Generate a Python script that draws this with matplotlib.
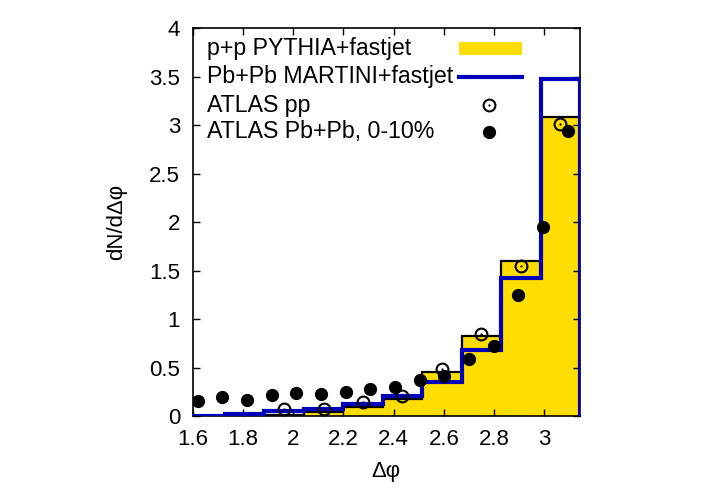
import numpy as np
import matplotlib
matplotlib.use("Agg")
import matplotlib.pyplot as plt
from matplotlib.lines import Line2D
from matplotlib.patches import Rectangle

plt.rcParams['font.family'] = ['Liberation Sans', 'DejaVu Sans']

# histogram bin edges (width pi/20)
bin_edges = [1.5708, 1.7279, 1.8850, 2.0420, 2.1991, 2.3562, 2.5133,
             2.6704, 2.8274, 2.9845, 3.1416]
pythia_pp = [0.0, 0.005, 0.01, 0.04, 0.09, 0.18, 0.45, 0.83, 1.60, 3.08]
martini_pbpb = [0.0, 0.02, 0.05, 0.07, 0.12, 0.21, 0.35, 0.68, 1.42, 3.48]

atlas_pp_x = [1.964, 2.121, 2.278, 2.435, 2.592, 2.749, 2.906, 3.063]
atlas_pp_y = [0.072, 0.075, 0.148, 0.206, 0.482, 0.846, 1.551, 3.013]

atlas_pbpb_x = [1.620, 1.718, 1.816, 1.914, 2.012, 2.110, 2.209, 2.307,
                2.405, 2.503, 2.601, 2.700, 2.798, 2.896, 2.994, 3.093]
atlas_pbpb_y = [0.158, 0.199, 0.165, 0.213, 0.234, 0.230, 0.250, 0.279,
                0.296, 0.371, 0.413, 0.585, 0.726, 1.245, 1.953, 2.944]

x_ticks = [1.6, 1.8, 2.0, 2.2, 2.4, 2.6, 2.8, 3.0]
x_tick_labels = ['1.6', '1.8', '2', '2.2', '2.4', '2.6', '2.8', '3']
y_ticks = [0, 0.5, 1, 1.5, 2, 2.5, 3, 3.5, 4]
y_tick_labels = ['0', '0.5', '1', '1.5', '2', '2.5', '3', '3.5', '4']

legend_labels = ['p+p PYTHIA+fastjet', 'Pb+Pb MARTINI+fastjet', 'ATLAS pp',
                 'ATLAS Pb+Pb, 0-10%']

YELLOW = '#ffdd00'
BLUE = '#0000bb'
FS = 16
LFS = 16.7
MS = 8.5

fig = plt.figure(figsize=(7.01, 4.91), dpi=100)
ax = fig.add_axes([0.2749, 0.1527, 0.8274 - 0.2749, 0.9424 - 0.1527])

ax.stairs(pythia_pp, bin_edges, fill=True, color=YELLOW, lw=0, zorder=1)
ax.stairs(pythia_pp, bin_edges, fill=False, color='black', lw=1.6, zorder=2)
ax.stairs(martini_pbpb, bin_edges, fill=False, color=BLUE, lw=3.0, zorder=3)

ax.plot(atlas_pp_x, atlas_pp_y, ls='none', marker='o', ms=MS, mfc='none',
        mec='black', mew=1.5, zorder=5)
ax.plot(atlas_pp_x, atlas_pp_y, ls='none', marker='o', ms=1.6, mfc='black',
        mec='black', mew=0, zorder=5)
ax.plot(atlas_pbpb_x, atlas_pbpb_y, ls='none', marker='o', ms=MS,
        mfc='black', mec='black', zorder=6)

ax.set_xlim(1.6, np.pi)
ax.set_ylim(0, 4)
ax.set_xticks(x_ticks)
ax.set_xticklabels(x_tick_labels)
ax.set_yticks(y_ticks)
ax.set_yticklabels(y_tick_labels)
ax.tick_params(direction='in', top=True, right=True, length=5, width=1,
               labelsize=FS, pad=9)
for s in ax.spines.values():
    s.set_linewidth(1.2)

ax.set_xlabel('Δφ', fontsize=FS, labelpad=8)
ax.set_ylabel('dN/dΔφ', fontsize=FS, labelpad=16)

# legend (gnuplot style: text left, samples in a column to the right)
row_y = [0.9466, 0.8752, 0.8020, 0.7332]
tx = 0.036
sx0, sx1, smid = 0.688, 0.850, 0.766
for lab, yy in zip(legend_labels, row_y):
    ax.text(tx, yy, lab, transform=ax.transAxes, fontsize=LFS,
            ha='left', va='center', zorder=10)
ax.add_patch(Rectangle((sx0, 0.9311), sx1 - sx0, 0.0344,
                       transform=ax.transAxes, facecolor=YELLOW,
                       edgecolor='none', zorder=10))
ax.add_line(Line2D([sx0, sx1], [row_y[1], row_y[1]], transform=ax.transAxes,
                   color=BLUE, lw=3.0, zorder=10))
ax.add_line(Line2D([smid], [row_y[2]], transform=ax.transAxes, ls='none',
                   marker='o', ms=MS, mfc='none', mec='black', mew=1.5,
                   zorder=10))
ax.add_line(Line2D([smid], [row_y[2]], transform=ax.transAxes, ls='none',
                   marker='o', ms=1.6, mfc='black', mec='black', mew=0,
                   zorder=10))
ax.add_line(Line2D([smid], [row_y[3]], transform=ax.transAxes, ls='none',
                   marker='o', ms=MS, mfc='black', mec='black', zorder=10))

fig.savefig('out.png', dpi=100)
